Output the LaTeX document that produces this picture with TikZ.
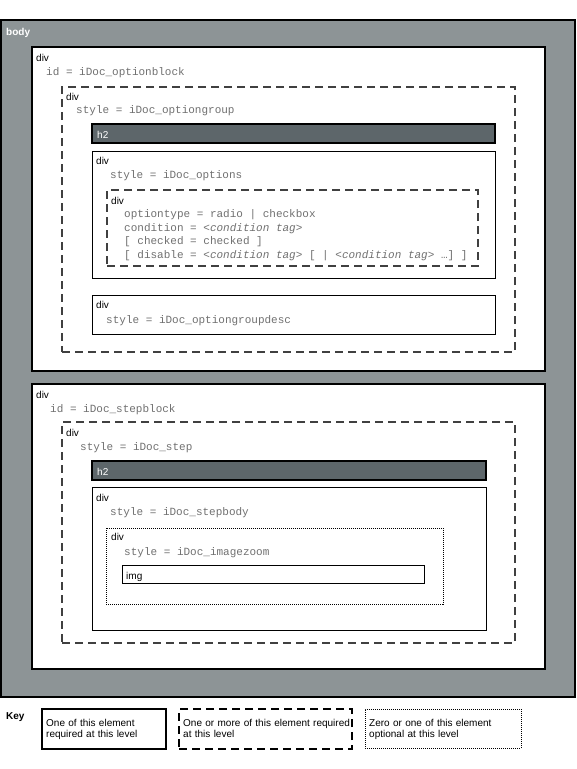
\documentclass[tikz,border=0pt]{standalone}
\usepackage{fontspec}
\setmainfont{Liberation Sans}
\setmonofont{Liberation Mono}
\definecolor{bodygray}{HTML}{8D9496}
\definecolor{headfill}{HTML}{5D666A}
\definecolor{dashcol}{HTML}{404040}
\definecolor{attrgray}{HTML}{707070}
\begin{document}
\begin{tikzpicture}[x=1pt,y=-1pt,
  box/.style={anchor=north west, inner sep=0pt, outer sep=0pt, fill=white},
  onebox/.style={box, draw=black, line width=2pt},
  thinbox/.style={box, draw=black, line width=1pt},
  manybox/.style={box, draw=dashcol, line width=1.4pt, dash pattern=on 8pt off 5pt},
  optbox/.style={box, draw=black, line width=1pt, dash pattern=on 1pt off 1pt},
  headbar/.style={box, draw=black, line width=1.6pt, fill=headfill},
  tag/.style={anchor=base west, inner sep=0pt, font=\fontsize{10}{12}\selectfont},
  attr/.style={anchor=base west, inner sep=0pt, text=attrgray,
    font=\fontsize{11}{13}\selectfont\ttfamily},
  keytext/.style={anchor=base west, inner sep=0pt, text width=250pt, align=left,
    font=\fontsize{10}{11.5}\selectfont},
]
\useasboundingbox (0,0) rectangle (577,769);

% body
\node[box, draw=black, line width=2pt, fill=bodygray, minimum width=574pt, minimum height=677pt]
  (body) at (1,20) {};
\node[tag, text=white, font=\fontsize{10}{12}\selectfont\bfseries] (bodylbl) at (6,35) {body};

% option block
\node[onebox, minimum width=513pt, minimum height=324pt] (optblock) at (32,47) {};
\node[tag] (optblockdiv) at (36,61) {div};
\node[attr] (optblockid) at (46,75) {id = iDoc\_optionblock};

\node[manybox, minimum width=453pt, minimum height=265pt] (optgroup) at (62,87) {};
\node[tag] (optgroupdiv) at (66,100) {div};
\node[attr] (optgroupstyle) at (76,113) {style = iDoc\_optiongroup};

\node[headbar, minimum width=403pt, minimum height=19pt] (optgrouph) at (92,124) {};
\node[tag, text=white] (optgrouphlbl) at (97,138) {h2};

\node[thinbox, minimum width=403pt, minimum height=127pt] (options) at (92,151) {};
\node[tag] (optionsdiv) at (96,164) {div};
\node[attr] (optionsstyle) at (110,178) {style = iDoc\_options};

\node[manybox, minimum width=371pt, minimum height=76pt] (option) at (107,190) {};
\node[tag] (optiondiv) at (111,204) {div};
\node[attr] (optiontype) at (124,217) {optiontype = radio | checkbox};
\node[attr] (optioncond) at (124,231) {condition = <\textit{condition tag}>};
\node[attr] (optionchecked) at (124,244) {[ checked = checked ]};
\node[attr] (optiondisable) at (124,258)
  {[ disable = <\textit{condition tag}> [ | <\textit{condition tag}> …] ]};

\node[thinbox, minimum width=403pt, minimum height=39pt] (optdesc) at (92,295) {};
\node[tag] (optdescdiv) at (96,308) {div};
\node[attr] (optdescstyle) at (106,323) {style = iDoc\_optiongroupdesc};

% step block
\node[onebox, minimum width=513pt, minimum height=285pt] (stepblock) at (32,384) {};
\node[tag] (stepblockdiv) at (36,398) {div};
\node[attr] (stepblockid) at (50,412) {id = iDoc\_stepblock};

\node[manybox, minimum width=453pt, minimum height=221pt] (step) at (62,422) {};
\node[tag] (stepdiv) at (66,436) {div};
\node[attr] (stepstyle) at (80,450) {style = iDoc\_step};

\node[headbar, minimum width=394pt, minimum height=19pt] (steph) at (92,461) {};
\node[tag, text=white] (stephlbl) at (97,475) {h2};

\node[thinbox, minimum width=394pt, minimum height=143pt] (stepbody) at (92,487) {};
\node[tag] (stepbodydiv) at (96,501) {div};
\node[attr] (stepbodystyle) at (110,515) {style = iDoc\_stepbody};

\node[optbox, minimum width=337pt, minimum height=76pt] (zoom) at (106,528) {};
\node[tag] (zoomdiv) at (111,540) {div};
\node[attr] (zoomstyle) at (124,555) {style = iDoc\_imagezoom};

\node[thinbox, minimum width=302pt, minimum height=18pt] (img) at (122,565) {};
\node[tag] (imglbl) at (126,579) {img};

% key
\node[tag, font=\fontsize{10}{12}\selectfont\bfseries] (keylbl) at (6,719) {Key};
\node[onebox, minimum width=124pt, minimum height=40pt] (keyone) at (42,709) {};
\node[keytext] (keyonetext) at (46,726) {One of this element\\required at this level};
\node[manybox, draw=black, minimum width=173pt, minimum height=40pt] (keymany) at (179,709) {};
\node[keytext] (keymanytext) at (183,726) {One or more of this element required\\at this level};
\node[optbox, minimum width=156pt, minimum height=39pt] (keyopt) at (365,709) {};
\node[keytext] (keyopttext) at (369,726) {Zero or one of this element\\optional at this level};
\end{tikzpicture}
\end{document}
